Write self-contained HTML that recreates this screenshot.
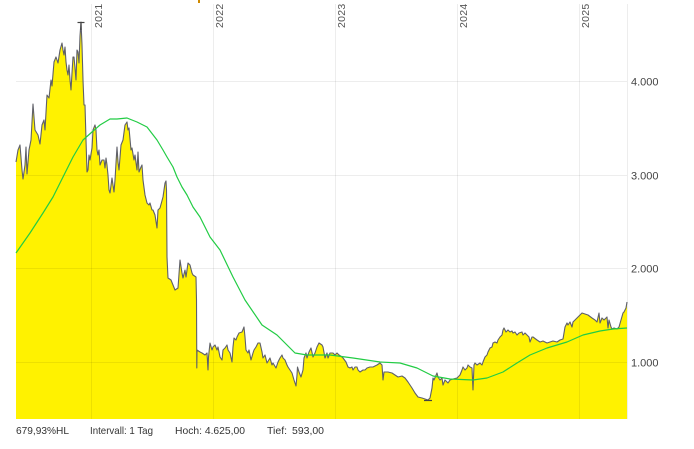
<!DOCTYPE html>
<html><head><meta charset="utf-8"><style>
html,body{margin:0;padding:0;background:#fff;}
svg{display:block;font-family:"Liberation Sans",sans-serif;}
</style></head><body>
<svg width="694" height="449" viewBox="0 0 694 449" xmlns="http://www.w3.org/2000/svg">
<rect width="694" height="449" fill="#fff"/>
<rect x="198" y="0" width="2" height="3" fill="#d08a00"/>
<!-- price fill -->
<polygon fill="#fff200" stroke="none" points="16,419 16,162 18,150 20,145 22,170 23,179 25,165 26,147 27,174 29,150 31,140 33,104 35,130 38,135 40,144 42,125 44,120 45,130 47,95 49,98 51,80 52,86 54,62 56,57 58,63 60,50 62,43 63,50 64,55 65,47 66,62 67,70 68,75 69,65 70,80 71,90 72,73 73,57 74,57 75,68 76,80 77,50 78,52 79,63 80,36 81,22 82,45 83,80 84,105 85,105 86,140 87,172 88,170 89,155 90,160 92,148 93,130 95,125 96,130 97,150 98,155 99,150 100,165 102,160 104,160 105,168 106,158 107,165 108,175 109,190 110,193 112,178 114,192 115,180 116,163 117,147 118,162 119,170 121,145 123,140 125,125 127,122 128,130 129,128 131,150 132,148 134,160 135,155 137,170 138,152 139,172 141,167 142,165 143,180 145,195 147,203 149,205 150,203 152,210 153,210 155,215 157,228 158,210 160,208 163,197 165,183 166,181 166.5,190 167,257 168,278 171,280 173,285 175,290 178,288 180,260 182,273 183,278 185,270 186,277 188,263 190,265 192,273 193,275 196,277 196.5,300 196.8,368 197,350 200,352 202,353 205,355 207,353 208,370 208.5,357 210,343 212,350 213,347 215,345 217,350 218,347 220,357 222,360 223,350 225,348 227,345 228,350 230,353 232,362 233,347 234,338 236,340 237,337 239,333 242,332 244,327 245,337 246,350 248,353 249,350 251,360 253,353 254,350 256,347 258,343 260,343 262,352 263,358 265,355 267,363 270,358 272,365 273,363 276,368 278,362 280,358 282,355 283,358 285,360 287,365 288,367 290,370 292,373 294,380 296,386 297,375 297.5,367 299,372 301,377 303,370 304,358 306,353 307,358 309,352 311,348 313,357 315,353 317,347 319,343 322,345 323,347 325,358 327,353 328,358 330,353 333,353 335,355 337,353 339,355 342,357 343,358 346,362 348,367 350,368 352,367 353,370 355,367 357,367 358,370 360,372 363,370 365,370 367,368 370,367 373,367 377,365 380,363 382,365 383,380 384,372 388,372 392,373 395,375 398,377 402,376 405,378 408,382 412,388 415,393 418,397 422,398 425,399 428,400 430,398 432,388 433,378 434,380 437,373 438,377 440,380 442,378 443,385 445,380 447,382 448,383 450,380 453,379 457,378 460,375 462,370 463,367 465,370 467,368 468,365 470,367 472,368 473,390 474,365 475,363 477,365 480,363 482,365 483,362 485,357 487,355 488,352 490,348 492,347 493,343 495,342 497,343 498,340 500,337 502,335 503,330 504,328 506,332 508,330 510,332 512,331 513,333 515,332 517,335 519,333 522,332 523,335 525,333 527,335 529,337 530,342 532,337 533,337 537,340 540,342 543,341 547,343 550,342 553,341 557,342 560,340 563,339 564,333 565,327 567,323 568,325 570,322 572,327 573,322 577,318 580,315 582,313 585,314 588,315 592,318 595,320 597,322 599,313 600,323 602,318 604,320 607,317 608,328 609,320 611,327 612,329 614,328 617,329 619,327 621,320 623,313 624,312 626,308 627,302 627,419"/>
<!-- grid -->
<g stroke="rgba(0,0,0,0.07)" stroke-width="1">
<line x1="16" y1="81.5" x2="627" y2="81.5"/>
<line x1="16" y1="175.5" x2="627" y2="175.5"/>
<line x1="16" y1="268.5" x2="627" y2="268.5"/>
<line x1="16" y1="362.5" x2="627" y2="362.5"/>
<line x1="91.5" y1="4" x2="91.5" y2="419"/>
<line x1="213.5" y1="4" x2="213.5" y2="419"/>
<line x1="335.5" y1="4" x2="335.5" y2="419"/>
<line x1="457.5" y1="4" x2="457.5" y2="419"/>
<line x1="579.5" y1="4" x2="579.5" y2="419"/>
<line x1="627.5" y1="4" x2="627.5" y2="419"/>
</g>
<!-- price line -->
<polyline fill="none" stroke="#5f6068" stroke-width="1.1" stroke-linejoin="round" points="16,162 18,150 20,145 22,170 23,179 25,165 26,147 27,174 29,150 31,140 33,104 35,130 38,135 40,144 42,125 44,120 45,130 47,95 49,98 51,80 52,86 54,62 56,57 58,63 60,50 62,43 63,50 64,55 65,47 66,62 67,70 68,75 69,65 70,80 71,90 72,73 73,57 74,57 75,68 76,80 77,50 78,52 79,63 80,36 81,22 82,45 83,80 84,105 85,105 86,140 87,172 88,170 89,155 90,160 92,148 93,130 95,125 96,130 97,150 98,155 99,150 100,165 102,160 104,160 105,168 106,158 107,165 108,175 109,190 110,193 112,178 114,192 115,180 116,163 117,147 118,162 119,170 121,145 123,140 125,125 127,122 128,130 129,128 131,150 132,148 134,160 135,155 137,170 138,152 139,172 141,167 142,165 143,180 145,195 147,203 149,205 150,203 152,210 153,210 155,215 157,228 158,210 160,208 163,197 165,183 166,181 166.5,190 167,257 168,278 171,280 173,285 175,290 178,288 180,260 182,273 183,278 185,270 186,277 188,263 190,265 192,273 193,275 196,277 196.5,300 196.8,368 197,350 200,352 202,353 205,355 207,353 208,370 208.5,357 210,343 212,350 213,347 215,345 217,350 218,347 220,357 222,360 223,350 225,348 227,345 228,350 230,353 232,362 233,347 234,338 236,340 237,337 239,333 242,332 244,327 245,337 246,350 248,353 249,350 251,360 253,353 254,350 256,347 258,343 260,343 262,352 263,358 265,355 267,363 270,358 272,365 273,363 276,368 278,362 280,358 282,355 283,358 285,360 287,365 288,367 290,370 292,373 294,380 296,386 297,375 297.5,367 299,372 301,377 303,370 304,358 306,353 307,358 309,352 311,348 313,357 315,353 317,347 319,343 322,345 323,347 325,358 327,353 328,358 330,353 333,353 335,355 337,353 339,355 342,357 343,358 346,362 348,367 350,368 352,367 353,370 355,367 357,367 358,370 360,372 363,370 365,370 367,368 370,367 373,367 377,365 380,363 382,365 383,380 384,372 388,372 392,373 395,375 398,377 402,376 405,378 408,382 412,388 415,393 418,397 422,398 425,399 428,400 430,398 432,388 433,378 434,380 437,373 438,377 440,380 442,378 443,385 445,380 447,382 448,383 450,380 453,379 457,378 460,375 462,370 463,367 465,370 467,368 468,365 470,367 472,368 473,390 474,365 475,363 477,365 480,363 482,365 483,362 485,357 487,355 488,352 490,348 492,347 493,343 495,342 497,343 498,340 500,337 502,335 503,330 504,328 506,332 508,330 510,332 512,331 513,333 515,332 517,335 519,333 522,332 523,335 525,333 527,335 529,337 530,342 532,337 533,337 537,340 540,342 543,341 547,343 550,342 553,341 557,342 560,340 563,339 564,333 565,327 567,323 568,325 570,322 572,327 573,322 577,318 580,315 582,313 585,314 588,315 592,318 595,320 597,322 599,313 600,323 602,318 604,320 607,317 608,328 609,320 611,327 612,329 614,328 617,329 619,327 621,320 623,313 624,312 626,308 627,302"/>
<!-- high/low markers -->
<g stroke="#444" stroke-width="1.2">
<line x1="77.5" y1="22.5" x2="84.5" y2="22.5"/>
<line x1="81" y1="22.5" x2="81" y2="30"/>
<line x1="424" y1="400.5" x2="432" y2="400.5"/>
</g>
<!-- moving average -->
<polyline fill="none" stroke="#22cc44" stroke-width="1.2" stroke-linejoin="round" points="16,253 30,233 43,213 53,197 63,177 73,157 83,140 92,132 100,125 110,119 117,119 127,118 137,122 147,127 157,140 163,150 167,157 173,167 177,177 182,187 187,195 193,207 200,217 210,237 220,250 233,277 245,300 262,325 277,335 295,353 307,355 330,355 353,358 380,362 400,363 417,368 433,376 450,379 473,380 487,378 503,372 517,363 530,355 547,348 567,342 583,335 600,331 613,329 627,328"/>
<!-- year labels -->
<g font-size="10.5" fill="#555" letter-spacing="0.3">
<text transform="translate(102,28) rotate(-90)">2021</text>
<text transform="translate(223,28) rotate(-90)">2022</text>
<text transform="translate(345,28) rotate(-90)">2023</text>
<text transform="translate(467,28) rotate(-90)">2024</text>
<text transform="translate(589,28) rotate(-90)">2025</text>
</g>
<!-- y labels -->
<g font-size="11" fill="#444">
<text x="631" y="85.5">4.000</text>
<text x="631" y="179.5">3.000</text>
<text x="631" y="272.5">2.000</text>
<text x="631" y="366.5">1.000</text>
</g>
<!-- footer -->
<g font-size="10.5" fill="#333">
<text x="16" y="434" textLength="53" lengthAdjust="spacingAndGlyphs">679,93%HL</text>
<text x="90" y="434" textLength="63" lengthAdjust="spacingAndGlyphs">Intervall: 1 Tag</text>
<text x="175" y="434" textLength="70" lengthAdjust="spacingAndGlyphs">Hoch: 4.625,00</text>
<text x="267" y="434">Tief:</text>
<text x="292" y="434" textLength="32" lengthAdjust="spacingAndGlyphs">593,00</text>
</g>
</svg>
</body></html>
